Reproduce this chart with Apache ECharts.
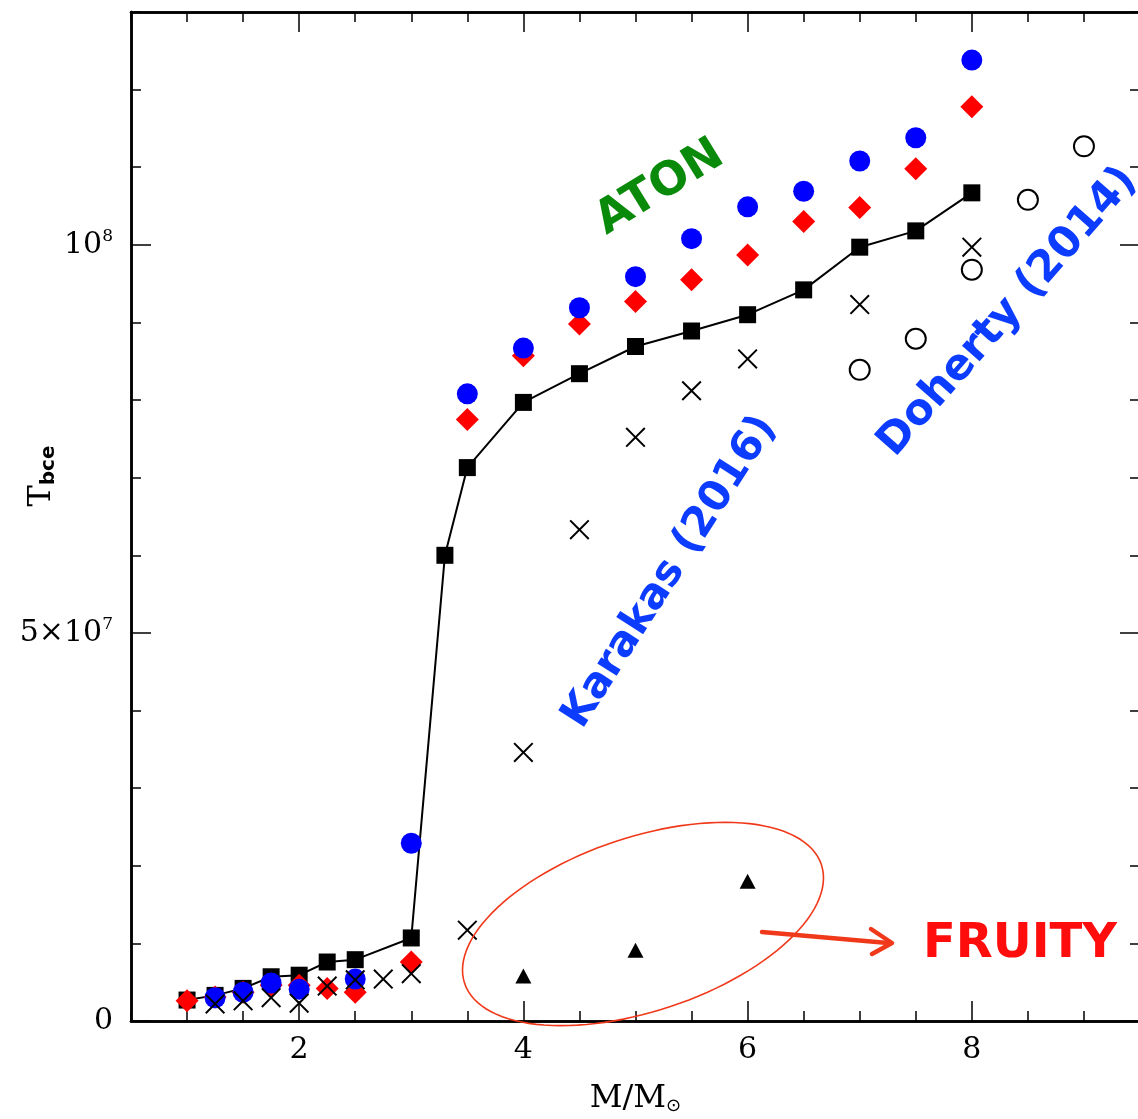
<!DOCTYPE html>
<html>
<head>
<meta charset="utf-8">
<script src="https://cdn.jsdelivr.net/npm/echarts@6/dist/echarts.min.js"></script>
<style>
html,body{margin:0;padding:0;background:#fff;overflow:hidden;}
#chart{width:1138px;height:1119px;}
</style>
</head>
<body>
<div id="chart"></div>
<script>
// ---- Data ----
// Black squares joined by a line
const squareMass = [1, 1.25, 1.5, 1.75, 2, 2.25, 2.5, 3, 3.3, 3.5, 4, 4.5, 5, 5.5, 6, 6.5, 7, 7.5, 8];
const squareT = [2.7e6, 3.3e6, 4.2e6, 5.7e6, 5.9e6, 7.6e6, 7.9e6, 1.07e7, 6.0e7, 7.13e7, 7.97e7, 8.34e7, 8.69e7, 8.89e7, 9.10e7, 9.42e7, 9.97e7, 1.018e8, 1.067e8];
// Red diamonds
const diamondMass = [1, 1.25, 1.5, 1.75, 2, 2.25, 2.5, 3, 3.5, 4, 4.5, 5, 5.5, 6, 6.5, 7, 7.5, 8];
const diamondT = [2.6e6, 3.1e6, 3.7e6, 4.6e6, 4.6e6, 4.2e6, 3.7e6, 7.6e6, 7.75e7, 8.57e7, 8.98e7, 9.27e7, 9.55e7, 9.87e7, 1.03e8, 1.048e8, 1.098e8, 1.178e8];
// Blue circles
const circleMass = [1.25, 1.5, 1.75, 2, 2.5, 3, 3.5, 4, 4.5, 5, 5.5, 6, 6.5, 7, 7.5, 8];
const circleT = [3.0e6, 3.7e6, 4.9e6, 4.1e6, 5.4e6, 2.29e7, 8.08e7, 8.67e7, 9.19e7, 9.59e7, 1.008e8, 1.049e8, 1.069e8, 1.108e8, 1.138e8, 1.238e8];
// Karakas (2016) crosses
const karakasMass = [1.25, 1.5, 1.75, 2, 2.25, 2.5, 2.75, 3, 3.5, 4, 4.5, 5, 5.5, 6, 7, 8];
const karakasT = [2.2e6, 2.6e6, 3.0e6, 2.3e6, 4.5e6, 5.3e6, 5.4e6, 6.1e6, 1.17e7, 3.46e7, 6.33e7, 7.52e7, 8.12e7, 8.53e7, 9.23e7, 9.97e7];
// Doherty (2014) open circles
const dohertyMass = [7, 7.5, 8, 8.5, 9];
const dohertyT = [8.39e7, 8.79e7, 9.68e7, 1.058e8, 1.127e8];
// FRUITY triangles
const fruityMass = [4, 5, 6];
const fruityT = [5.8e6, 9.1e6, 1.8e7];

// Tick labels
const xMajorTicks = [2, 4, 6, 8];
const yMajorTicks = [0, 5e7, 1e8];
const yTickLabels = [['0', ''], ['5×10', '7'], ['10', '8']];

const pairs = (xs, ys) => xs.map((x, i) => [x, ys[i]]);

const chart = echarts.init(document.getElementById('chart'), null, {renderer: 'canvas'});

const black = '#000';
const serif = 'DejaVu Serif';
const xBase = {
  type: 'value', min: 0.5, max: 9.5, splitLine: {show: false},
  axisLine: {onZero: false, lineStyle: {color: black, width: 2.5}}
};
const yBase = {
  type: 'value', min: 0, max: 1.3e8, splitLine: {show: false},
  axisLine: {onZero: false, lineStyle: {color: black, width: 2.5}}
};
const minorTick = {inside: true, length: 10, lineStyle: {color: black, width: 1.5}};
const majorTick = {inside: true, length: 20, lineStyle: {color: black, width: 1.5}};

const crossPath = 'path://M0,1.4L1.4,0L10,8.6L18.6,0L20,1.4L11.4,10L20,18.6L18.6,20L10,11.4L1.4,20L0,18.6L8.6,10Z';

// ellipse outline around FRUITY points (annotation, pixel space)
const ell = [];
(function () {
  const cx = 643, cy = 924, a = 188, b = 87, th = 18.4 * Math.PI / 180;
  for (let i = 0; i < 120; i++) {
    const t = i / 120 * Math.PI * 2;
    const px = a * Math.cos(t), py = b * Math.sin(t);
    ell.push([cx + px * Math.cos(th) - py * Math.sin(th), cy - (px * Math.sin(th) + py * Math.cos(th))]);
  }
})();

const annFont = 'DejaVu Sans';
const option = {
  animation: false,
  backgroundColor: '#fff',
  grid: {left: 131, width: 1009, top: 12, bottom: 98, containLabel: false, outerBoundsMode: 'none'},
  xAxis: [
    Object.assign({}, xBase, {position: 'bottom', interval: 0.5, axisTick: minorTick, axisLabel: {show: false}}),
    Object.assign({}, xBase, {
      position: 'bottom',
      axisTick: Object.assign({customValues: xMajorTicks}, majorTick),
      axisLabel: {customValues: xMajorTicks, margin: 14, fontFamily: serif, fontSize: 30, color: black},
      name: 'M/M{s|⊙}', nameLocation: 'middle', nameGap: 62,
      nameTextStyle: {fontFamily: serif, fontSize: 32, color: black,
        rich: {s: {fontFamily: 'DejaVu Sans', fontSize: 18, color: black, verticalAlign: 'bottom'}}}
    }),
    Object.assign({}, xBase, {position: 'top', interval: 0.5, axisTick: minorTick, axisLabel: {show: false}}),
    Object.assign({}, xBase, {position: 'top', axisTick: Object.assign({customValues: xMajorTicks}, majorTick), axisLabel: {show: false}})
  ],
  yAxis: [
    Object.assign({}, yBase, {position: 'left', interval: 1e7, axisTick: minorTick, axisLabel: {show: false}}),
    Object.assign({}, yBase, {
      position: 'left',
      axisTick: Object.assign({customValues: yMajorTicks}, majorTick),
      axisLabel: {
        customValues: yMajorTicks, margin: 18,
        formatter: function (v) {
          const i = yMajorTicks.indexOf(v);
          const l = yTickLabels[i] || [String(v), ''];
          return '{n|' + l[0] + '}' + (l[1] ? '{s|' + l[1] + '}' : '');
        },
        rich: {
          n: {fontFamily: serif, fontSize: 30, lineHeight: 34, color: black},
          s: {fontFamily: serif, fontSize: 17, lineHeight: 22, color: black, verticalAlign: 'top'}
        }
      }
    }),
    Object.assign({}, yBase, {position: 'right', interval: 1e7, axisTick: minorTick, axisLabel: {show: false}}),
    Object.assign({}, yBase, {position: 'right', axisTick: Object.assign({customValues: yMajorTicks}, majorTick), axisLabel: {show: false}})
  ],
  series: [
    {
      type: 'line', name: 'squares', data: pairs(squareMass, squareT),
      symbol: 'rect', symbolSize: 17, z: 2,
      itemStyle: {color: black, opacity: 1}, lineStyle: {color: black, width: 2}
    },
    {
      type: 'scatter', name: 'diamonds', data: pairs(diamondMass, diamondT),
      symbol: 'diamond', symbolSize: 23, z: 3, itemStyle: {color: '#ff0000', opacity: 1}
    },
    {
      type: 'scatter', name: 'circles', data: pairs(circleMass, circleT),
      symbol: 'circle', symbolSize: 21, z: 4, itemStyle: {color: '#0000ff', opacity: 1}
    },
    {
      type: 'scatter', name: 'Karakas (2016)', data: pairs(karakasMass, karakasT),
      symbol: crossPath, symbolSize: 20, z: 5, itemStyle: {color: black, opacity: 1}
    },
    {
      type: 'scatter', name: 'Doherty (2014)', data: pairs(dohertyMass, dohertyT),
      symbol: 'circle', symbolSize: 20, z: 5,
      itemStyle: {color: 'rgba(255,255,255,0)', borderColor: black, borderWidth: 2, opacity: 1}
    },
    {
      type: 'scatter', name: 'FRUITY', data: pairs(fruityMass, fruityT),
      symbol: 'triangle', symbolSize: [16, 15], z: 5, itemStyle: {color: black, opacity: 1}
    }
  ],
  graphic: [
    {
      type: 'text', x: 42, y: 476, rotation: Math.PI / 2,
      style: {
        text: 'T{s|bce}', fontFamily: serif, fontSize: 32, fill: black,
        align: 'center', verticalAlign: 'middle',
        rich: {s: {fontFamily: 'DejaVu Sans', fontSize: 20, fontWeight: 'bold', fill: black, padding: [14, 0, 0, 0]}}
      }
    },
    {
      type: 'text', x: 660, y: 188, rotation: 31.6 * Math.PI / 180,
      style: {text: 'ATON', fontFamily: annFont, fontWeight: 'bold', fontSize: 46, fill: '#0a8a0a', align: 'center', verticalAlign: 'middle'}
    },
    {
      type: 'text', x: 670, y: 572, rotation: 57.4 * Math.PI / 180,
      style: {text: 'Karakas (2016)', fontFamily: annFont, fontWeight: 'bold', fontSize: 42, fill: '#0b3cff', align: 'center', verticalAlign: 'middle'}
    },
    {
      type: 'text', x: 1008, y: 312, rotation: 48.7 * Math.PI / 180,
      style: {text: 'Doherty (2014)', fontFamily: annFont, fontWeight: 'bold', fontSize: 43, fill: '#0b3cff', align: 'center', verticalAlign: 'middle'}
    },
    {
      type: 'text', x: 1020, y: 945,
      style: {text: 'FRUITY', fontFamily: annFont, fontWeight: 'bold', fontSize: 48, fill: '#ff0d0d', align: 'center', verticalAlign: 'middle'}
    },
    {
      type: 'polygon', shape: {points: ell},
      style: {fill: 'none', stroke: '#f0391a', lineWidth: 1.6}, z: 10
    },
    {
      type: 'polyline', shape: {points: [[762, 932], [888, 943]]},
      style: {stroke: '#f0391a', lineWidth: 4.5, lineCap: 'round'}, z: 10
    },
    {
      type: 'polyline', shape: {points: [[871, 929], [892, 943], [872, 954]]},
      style: {stroke: '#f0391a', lineWidth: 4.5, lineCap: 'round', lineJoin: 'round', fill: 'none'}, z: 10
    }
  ]
};
chart.setOption(option);
</script>
</body>
</html>
